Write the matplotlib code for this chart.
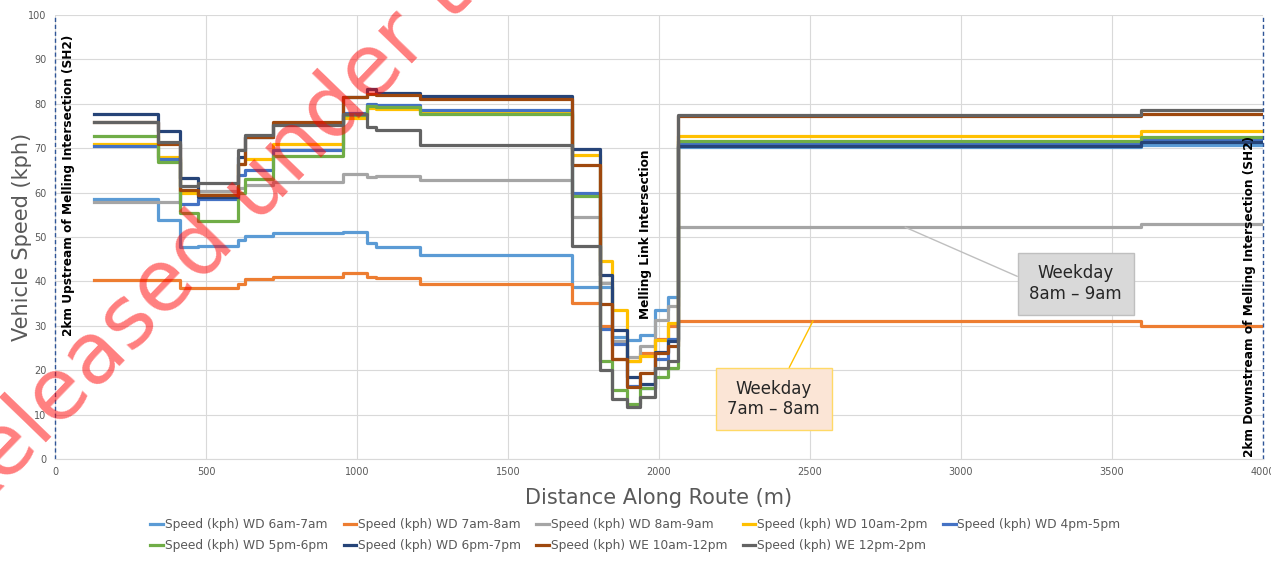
import numpy as np
import matplotlib.pyplot as plt

# distance breakpoints along the route (m), each value holds until the next breakpoint
dist = [130, 340, 415, 472, 606, 630, 722, 952, 1033, 1062, 1208, 1712, 1805,
        1843, 1893, 1937, 1987, 2031, 2064, 3595, 4000]

wd_6_7 = [58.5, 53.8, 47.7, 48.0, 49.3, 50.2, 50.8, 51.2, 48.6, 47.8, 46.0, 38.8,
          38.8, 27.5, 26.8, 28.0, 33.6, 36.5, 70.2, 70.8]
wd_7_8 = [40.3, 40.3, 38.5, 38.5, 39.5, 40.5, 41.1, 42.0, 41.0, 40.8, 39.5, 35.1,
          30.0, 22.5, 22.0, 23.8, 27.0, 30.0, 31.1, 30.0]
wd_8_9 = [57.8, 57.8, 60.5, 60.3, 61.0, 61.8, 62.3, 64.2, 63.5, 63.8, 62.8, 54.6,
          39.6, 26.5, 23.0, 25.5, 31.3, 34.4, 52.2, 53.0]
wd_10_2 = [70.9, 68.0, 59.8, 59.5, 66.5, 67.5, 70.9, 76.8, 79.0, 78.8, 78.2, 68.5,
           44.5, 33.6, 22.0, 23.3, 26.8, 30.7, 72.7, 73.8]
wd_4_5 = [70.5, 67.5, 57.4, 58.5, 64.0, 65.1, 69.6, 77.9, 80.0, 79.7, 78.5, 60.0,
          29.3, 26.0, 16.5, 16.0, 22.5, 27.0, 71.0, 71.8]
wd_5_6 = [72.8, 67.0, 55.3, 53.5, 60.0, 63.0, 68.3, 77.5, 79.5, 79.2, 77.8, 59.2,
          22.0, 15.5, 12.5, 16.0, 18.5, 20.5, 71.6, 72.6]
wd_6_7pm = [77.7, 73.8, 63.3, 59.0, 68.0, 72.5, 75.5, 81.5, 83.3, 82.5, 81.8, 69.8,
            41.5, 29.1, 18.5, 17.0, 24.0, 26.5, 70.5, 71.3]
we_10_12 = [76.0, 71.0, 60.5, 59.5, 66.5, 72.5, 76.0, 81.6, 82.2, 82.0, 81.0, 66.2,
            35.0, 22.5, 16.3, 19.3, 23.8, 25.5, 77.3, 77.8]
we_12_2 = [76.0, 71.5, 61.5, 62.2, 69.5, 73.0, 75.3, 77.8, 74.8, 74.0, 70.7, 48.0,
           20.0, 13.6, 11.8, 14.0, 20.5, 22.0, 77.5, 78.5]

labels = ['Speed (kph) WD 6am-7am', 'Speed (kph) WD 7am-8am', 'Speed (kph) WD 8am-9am',
          'Speed (kph) WD 10am-2pm', 'Speed (kph) WD 4pm-5pm', 'Speed (kph) WD 5pm-6pm',
          'Speed (kph) WD 6pm-7pm', 'Speed (kph) WE 10am-12pm', 'Speed (kph) WE 12pm-2pm']
series = [wd_6_7, wd_7_8, wd_8_9, wd_10_2, wd_4_5, wd_5_6, wd_6_7pm, we_10_12, we_12_2]
colors = ['#5B9BD5', '#ED7D31', '#A5A5A5', '#FFC000', '#4472C4', '#70AD47',
          '#264478', '#9E480E', '#636363']

fig = plt.figure(figsize=(12.71, 5.63), dpi=100)
ax = fig.add_axes([0.0433, 0.1847, 0.9504, 0.7887])

lines = []
for vals, lab, col in zip(series, labels, colors):
    ln, = ax.plot(dist, vals + [vals[-1]], drawstyle='steps-post', color=col, lw=2.3, label=lab)
    lines.append(ln)

ax.set_xlim(0, 4000)
ax.set_ylim(0, 100)
ax.set_xticks(np.arange(0, 4001, 500))
ax.set_yticks(np.arange(0, 101, 10))
ax.grid(True, color='#D9D9D9', lw=0.8)
ax.set_axisbelow(True)
for s in ['top', 'right', 'left']:
    ax.spines[s].set_visible(False)
ax.spines['bottom'].set_color('#D9D9D9')
ax.tick_params(length=0, labelsize=7, colors='#595959', pad=6)
ax.set_xlabel('Distance Along Route (m)', fontsize=15, color='#595959', labelpad=8)
ax.set_ylabel('Vehicle Speed (kph)', fontsize=15, color='#595959')
ax.yaxis.set_label_coords(-0.019, 0.5)

# boundary markers
for xv in [0, 4000]:
    ax.axvline(xv, color='#2F5597', ls=(0, (3, 2)), lw=1.0, clip_on=False)
ax.text(45, 95.5, '2km Upstream of Melling Intersection (SH2)', rotation=90,
        ha='center', va='top', fontsize=8.7, fontweight='bold')
ax.text(3955, 0.5, '2km Downstream of Melling Intersection (SH2)', rotation=90,
        ha='center', va='bottom', fontsize=8.7, fontweight='bold')
ax.text(1955, 69.6, 'Melling Link Intersection', rotation=90,
        ha='center', va='top', fontsize=8.7, fontweight='bold')

# callouts
ax.annotate('Weekday\n8am – 9am', xy=(2815, 52.2), xytext=(3380, 39.5),
            ha='center', va='center', fontsize=12, color='#262626',
            bbox=dict(boxstyle='square,pad=0.7', fc='#D9D9D9', ec='#BFBFBF'),
            arrowprops=dict(arrowstyle='-', color='#BFBFBF', lw=1,
                            shrinkA=0, shrinkB=0, relpos=(0, 0.55)))
ax.annotate('Weekday\n7am – 8am', xy=(2510, 31.1), xytext=(2380, 13.5),
            ha='center', va='center', fontsize=12, color='#262626',
            bbox=dict(boxstyle='square,pad=0.7', fc='#FBE5D6', ec='#FFD966'),
            arrowprops=dict(arrowstyle='-', color='#FFC000', lw=1,
                            shrinkA=0, shrinkB=0, relpos=(0.6, 1)))

# legend filled row by row (matplotlib fills columns first)
order = [0, 5, 1, 6, 2, 7, 3, 8, 4]
leg = fig.legend([lines[i] for i in order], [labels[i] for i in order],
                 loc='lower center', bbox_to_anchor=(0.5, 0.0), ncol=5, frameon=False,
                 fontsize=8.8, handlelength=1.0, handletextpad=0.15, columnspacing=1.3,
                 labelspacing=0.65)
for t in leg.get_texts():
    t.set_color('#595959')

# watermark
fig.text(-0.028, 0.065, 'Released under the Official Information Act', rotation=46,
         rotation_mode='anchor', ha='left', va='baseline', fontsize=62,
         color='red', alpha=0.5, zorder=10)

fig.savefig('out.png', dpi=100)
